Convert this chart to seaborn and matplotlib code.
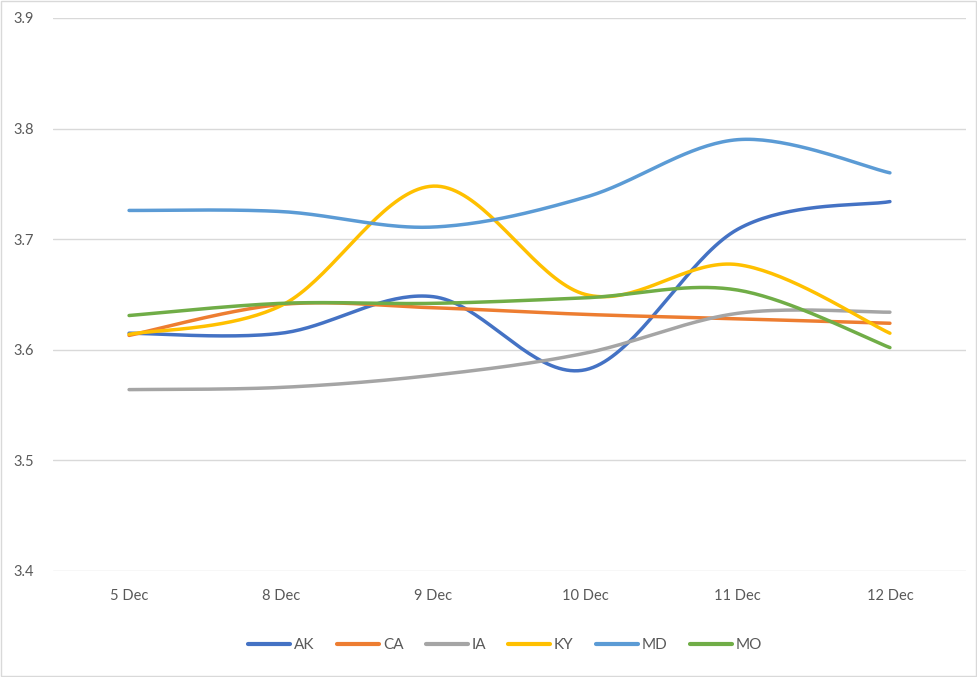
import numpy as np
import pandas as pd
import matplotlib.pyplot as plt
import seaborn as sns
from matplotlib.patches import Rectangle

# category axis
dates = ['5 Dec', '8 Dec', '9 Dec', '10 Dec', '11 Dec', '12 Dec']

# values
ak = [3.615, 3.615, 3.648, 3.582, 3.709, 3.734]
ca = [3.613, 3.641, 3.638, 3.632, 3.628, 3.624]
ia = [3.564, 3.566, 3.577, 3.597, 3.633, 3.634]
ky = [3.614, 3.640, 3.748, 3.650, 3.677, 3.615]
md = [3.726, 3.725, 3.711, 3.738, 3.790, 3.760]
mo = [3.631, 3.642, 3.642, 3.647, 3.654, 3.602]

states = ['AK', 'CA', 'IA', 'KY', 'MD', 'MO']
series = [ak, ca, ia, ky, md, mo]
colors = ['#4472C4', '#ED7D31', '#A5A5A5', '#FFC000', '#5B9BD5', '#70AD47']


def smooth(vals, n=40):
    # bezier smoothing, same idea as Excel's "smoothed line"
    p = np.array(vals, dtype=float)
    x = np.arange(len(p), dtype=float)
    xs, ys = [], []
    last = len(p) - 1
    for i in range(last):
        i0 = max(i - 1, 0)
        i3 = min(i + 2, last)
        c1 = (x[i] + (x[i + 1] - x[i0]) / 6, p[i] + (p[i + 1] - p[i0]) / 6)
        c2 = (x[i + 1] - (x[i3] - x[i]) / 6, p[i + 1] - (p[i3] - p[i]) / 6)
        t = np.linspace(0, 1, n, endpoint=(i == last - 1))
        a, b, c, d = (1 - t) ** 3, 3 * (1 - t) ** 2 * t, 3 * (1 - t) * t ** 2, t ** 3
        xs.append(a * x[i] + b * c1[0] + c * c2[0] + d * x[i + 1])
        ys.append(a * p[i] + b * c1[1] + c * c2[1] + d * p[i + 1])
    return np.concatenate(xs), np.concatenate(ys)


frames = []
for st, vals in zip(states, series):
    sx, sy = smooth(vals)
    frames.append(pd.DataFrame({'x': sx, 'y': sy, 'state': st}))
df = pd.concat(frames, ignore_index=True)

sns.set_theme(style='white')
plt.rcParams['font.family'] = ['Lato', 'DejaVu Sans']

fig = plt.figure(figsize=(9.77, 6.77), dpi=100)
ax = fig.add_axes([53 / 977, 1 - 571 / 677, 913 / 977, 553 / 677])

sns.lineplot(data=df, x='x', y='y', hue='state', hue_order=states,
             palette=colors, sort=False, estimator=None, linewidth=2.5,
             ax=ax)
for ln in ax.get_lines():
    ln.set_solid_capstyle('round')

ax.set_xlim(-0.5, 5.5)
ax.set_ylim(3.4, 3.9)
ax.set_xticks(range(len(dates)), dates)
yt = np.arange(3.4, 3.91, 0.1)
ax.set_yticks(yt, [f'{v:.1f}' for v in yt])
ax.yaxis.grid(True, color='#D9D9D9', linewidth=1)
ax.set_axisbelow(True)
ax.tick_params(axis='x', length=0, pad=13, labelsize=10.5, labelcolor='#595959')
ax.tick_params(axis='y', length=0, pad=14, labelsize=10.5, labelcolor='#595959')
ax.set_xlabel('')
ax.set_ylabel('')
for s in ax.spines.values():
    s.set_visible(False)

handles, labels = ax.get_legend_handles_labels()
ax.get_legend().remove()
for h in handles:
    h.set_linewidth(3)
    h.set_solid_capstyle('round')
fig.legend(handles, labels, loc='center', bbox_to_anchor=(0.517, 0.047),
           ncol=6, frameon=False, fontsize=11, labelcolor='#595959',
           handlelength=2.75, handletextpad=0.25, columnspacing=1.45)

# thin frame around the whole chart
fig.patches.append(Rectangle((0.001, 0.001), 0.998, 0.998, transform=fig.transFigure,
                             fill=False, edgecolor='#D9D9D9', linewidth=1))

fig.savefig('out.png', dpi=100)
